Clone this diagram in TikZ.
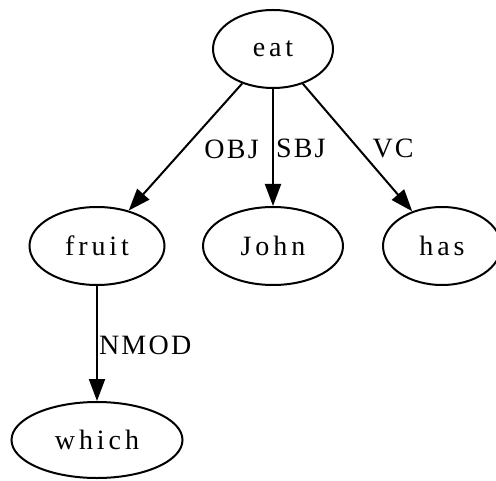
\documentclass[tikz,border=0pt]{standalone}
\usepackage{fontspec}
\setmainfont{Liberation Serif}
\usetikzlibrary{arrows.meta,shapes.geometric}
\newlength{\du}
\setlength{\du}{0.5pt}
\tikzset{
  word/.style={ellipse, draw, line width=2\du, minimum height=78\du, inner sep=0pt,
    font=\fontsize{14}{16}\selectfont\addfontfeature{LetterSpace=14}},
  deprel/.style={inner sep=0pt, anchor=base west,
    font=\fontsize{14}{16}\selectfont\addfontfeature{LetterSpace=8}},
  dep/.style={line width=2\du, -{Triangle[length=11pt,width=8pt]}},
}

\begin{document}
\begin{tikzpicture}
\pgftransformxscale{1.000000}
\pgftransformyscale{-1.000000}
\useasboundingbox (0\du,0\du) rectangle (496\du,480\du);
% words
\node[word, minimum width=120\du] (eat) at (273\du,49\du){eat};
\node[word, minimum width=135\du] (fruit) at (97\du,246\du){fruit};
\node[word, minimum width=140\du] (John) at (273\du,246\du){John};
\node[word, minimum width=118\du] (has) at (442\du,246\du){has};
\node[word, minimum width=171\du, minimum height=76\du] (which) at (97\du,440\du){which};
% arcs
\draw[dep] (eat) -- (fruit) node[deprel, pos=0.5, xshift=18\du, yshift=-11\du]{OBJ};
\draw[dep] (eat) -- (John) node[deprel, pos=0.5, xshift=2\du, yshift=-10\du]{SBJ};
\draw[dep] (eat) -- (has) node[deprel, pos=0.5, xshift=14\du, yshift=-10\du]{VC};
\draw[dep] (fruit) -- (which) node[deprel, pos=0.5, xshift=1\du, yshift=-10.5\du]{NMOD};
\end{tikzpicture}
\end{document}
